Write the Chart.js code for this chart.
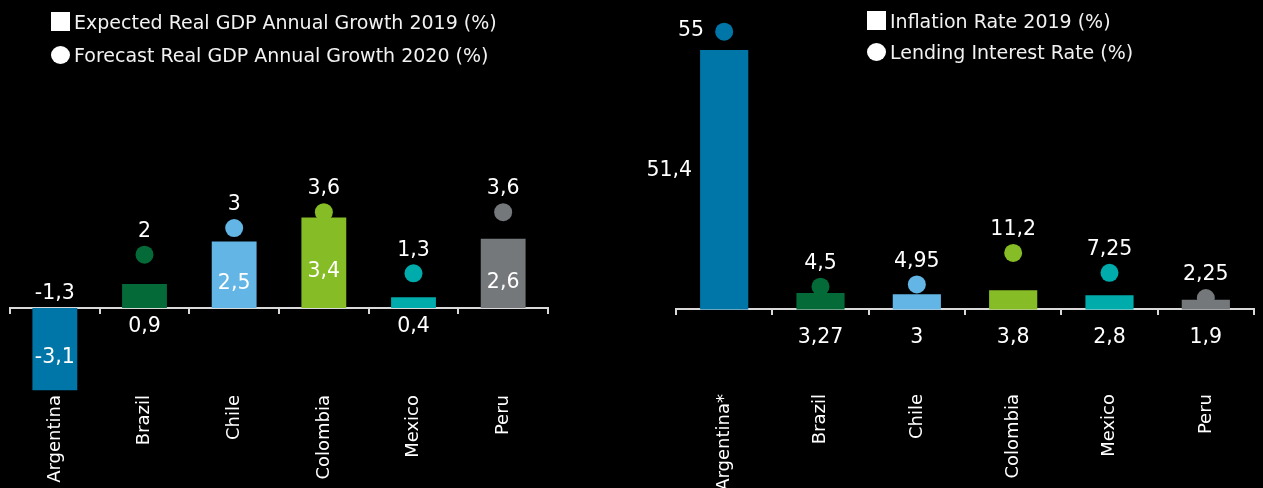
<!DOCTYPE html>
<html>
<head>
<meta charset="utf-8">
<script src="https://cdn.jsdelivr.net/npm/chart.js@4.4.1/dist/chart.umd.min.js"></script>
<style>
    html, body { margin: 0; padding: 0; background: #000; }
    #page { position: relative; width: 1263px; height: 488px; background: #000; overflow: hidden; }
    canvas { position: absolute; top: 0; }
    #graficoPib { left: 0; }
    #graficoTasas { left: 630px; }
    .legend { position: absolute; font-family: 'DejaVu Sans', sans-serif; font-size: 19px; color: #f2f2f2; white-space: nowrap; }
    .legend .item { display: flex; align-items: center; }
    .legend .mark { background: #fff; margin-right: 4px; flex: none; }
    .legend .mark.square { width: 19px; height: 19px; }
    .legend .mark.circle { width: 19px; height: 18px; border-radius: 50%; }
    #legendPib { left: 51px; top: 5px; }
    #legendPib .item { height: 33px; }
    #legendTasas { left: 867px; top: 5px; }
    #legendTasas .item { height: 31px; }
</style>
</head>
<body>
<div id="page">
    <canvas id="graficoPib" width="560" height="488"></canvas>
    <canvas id="graficoTasas" width="633" height="488"></canvas>
    <div id="legendPib" class="legend"></div>
    <div id="legendTasas" class="legend"></div>
</div>
<script>
// datos
const paisesPib = ['Argentina', 'Brazil', 'Chile', 'Colombia', 'Mexico', 'Peru'];
const pib2019 = [-3.1, 0.9, 2.5, 3.4, 0.4, 2.6];
const pib2020 = [-1.3, 2, 3, 3.6, 1.3, 3.6];

const paisesTasas = ['Argentina*', 'Brazil', 'Chile', 'Colombia', 'Mexico', 'Peru'];
const inflacion2019 = [51.4, 3.27, 3, 3.8, 2.8, 1.9];
const tasaInteres = [55, 4.5, 4.95, 11.2, 7.25, 2.25];

const coloresPaises = ['#0076A8', '#046A38', '#62B5E5', '#86BC25', '#00ABAB', '#75787B'];

Chart.defaults.font.family = "'DejaVu Sans', sans-serif";
Chart.defaults.color = '#ffffff';

// etiquetas de valor (no hay datalabels, se dibujan a mano)
const etiquetasValor = {
    id: 'etiquetasValor',
    afterDatasetsDraw(chart, args, opts) {
        const ctx = chart.ctx;
        const cero = chart.scales.y.getPixelForValue(0);
        ctx.save();
        ctx.font = '20.5px "DejaVu Sans"';
        ctx.fillStyle = '#ffffff';
        ctx.textBaseline = 'middle';
        chart.data.datasets.forEach(function (ds, di) {
            const meta = chart.getDatasetMeta(di);
            const lugar = opts.lugar[di];
            meta.data.forEach(function (el, i) {
                const texto = String(ds.data[i]).replace('.', ',');
                let x = el.x, y = el.y, align = 'center';
                switch (lugar[i]) {
                    case 'arriba': y = el.y - 23; break;
                    case 'izquierda': x = el.x - 20; y = el.y - 1.5; align = 'right'; break;
                    case 'sobreEje': y = cero - 14; break;
                    case 'bajoEje': y = cero + opts.bajoEje; break;
                    case 'dentro': y = (el.y + el.base) / 2 + 9; break;
                    case 'lado': x = el.x - el.width / 2 - 8; y = (el.y + el.base) / 2 - 9; align = 'right'; break;
                    default: return;
                }
                ctx.textAlign = align;
                ctx.fillText(texto, x, y);
            });
        });
        ctx.restore();
    }
};

function armar_leyenda(chart, idCont) {
    const cont = document.getElementById(idCont);
    chart.data.datasets.forEach(function (ds) {
        const item = document.createElement('div');
        item.className = 'item';
        const marca = document.createElement('span');
        marca.className = 'mark ' + (ds.type === 'bar' ? 'square' : 'circle');
        const txt = document.createElement('span');
        txt.textContent = ds.label;
        item.appendChild(marca);
        item.appendChild(txt);
        cont.appendChild(item);
    });
}

function crear_grafico(idCanvas, etiquetas, barras, puntos, nombres, rango, relleno, lugares, bajoEje, alturaEje) {
    const ctx = document.getElementById(idCanvas).getContext('2d');
    return new Chart(ctx, {
        data: {
            labels: etiquetas,
            datasets: [{
                type: 'bar',
                label: nombres[0],
                data: barras,
                backgroundColor: coloresPaises,
                borderWidth: 0,
                barPercentage: 0.5,
                categoryPercentage: 1,
                order: 0
            }, {
                type: 'line',
                label: nombres[1],
                data: puntos,
                showLine: false,
                pointRadius: 9,
                pointHoverRadius: 9,
                pointBorderWidth: 0,
                pointBackgroundColor: coloresPaises,
                order: 1
            }]
        },
        options: {
            responsive: false,
            animation: false,
            devicePixelRatio: 1,
            layout: { padding: relleno },
            scales: {
                x: {
                    type: 'category',
                    offset: true,
                    grid: { display: false, drawTicks: false },
                    border: { display: false },
                    ticks: {
                        color: '#ffffff',
                        font: { size: 18 },
                        minRotation: 90,
                        maxRotation: 90,
                        autoSkip: false,
                        padding: alturaEje.pad
                    },
                    afterFit: function (scale) { scale.height = alturaEje.h; }
                },
                xCero: {
                    type: 'category',
                    labels: etiquetas,
                    position: { y: 0 },
                    offset: true,
                    ticks: { display: false },
                    grid: {
                        offset: true,
                        drawOnChartArea: false,
                        drawTicks: true,
                        tickLength: 5,
                        lineWidth: 2,
                        color: '#d9d9d9'
                    },
                    border: { display: true, color: '#d9d9d9', width: 2 }
                },
                y: {
                    display: false,
                    min: rango[0],
                    max: rango[1]
                }
            },
            plugins: {
                legend: { display: false },
                tooltip: { enabled: false },
                etiquetasValor: { lugar: lugares, bajoEje: bajoEje }
            }
        },
        plugins: [etiquetasValor]
    });
}

document.addEventListener('DOMContentLoaded', function () {
    const pib = crear_grafico('graficoPib', paisesPib, pib2019, pib2020,
        ['Expected Real GDP Annual Growth 2019 (%)', 'Forecast Real GDP Annual Growth 2020 (%)'],
        [-3.2, 11.2],
        { top: 10, bottom: 0, left: 10, right: 12 },
        [
            ['dentro', 'bajoEje', 'dentro', 'dentro', 'bajoEje', 'dentro'],
            ['sobreEje', 'arriba', 'arriba', 'arriba', 'arriba', 'arriba']
        ],
        19,
        { h: 95, pad: 2 });
    armar_leyenda(pib, 'legendPib');

    const tasas = crear_grafico('graficoTasas', paisesTasas, inflacion2019, tasaInteres,
        ['Inflation Rate 2019 (%)', 'Lending Interest Rate (%)'],
        [-16.55, 59.3],
        { top: 10, bottom: 0, left: 46, right: 6 },
        [
            ['lado', 'bajoEje', 'bajoEje', 'bajoEje', 'bajoEje', 'bajoEje'],
            ['izquierda', 'arriba', 'arriba', 'arriba', 'arriba', 'arriba']
        ],
        28,
        { h: 95, pad: 1 });
    armar_leyenda(tasas, 'legendTasas');
});
</script>
</body>
</html>
